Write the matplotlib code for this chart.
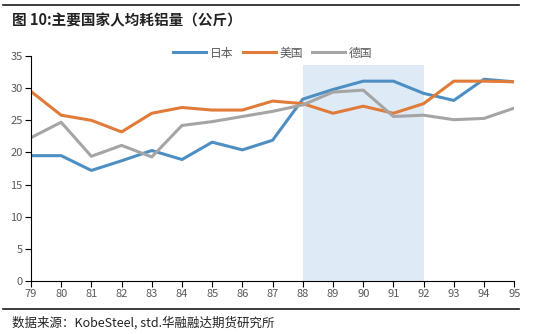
import matplotlib
matplotlib.use("Agg")
import matplotlib.pyplot as plt

plt.rcParams['font.family'] = ['Noto Sans CJK SC', 'DejaVu Sans']

years = ["79", "80", "81", "82", "83", "84", "85", "86", "87",
         "88", "89", "90", "91", "92", "93", "94", "95"]
japan = [19.5, 19.5, 17.2, 18.7, 20.3, 18.9, 21.6, 20.4, 21.9,
         28.3, 29.8, 31.1, 31.1, 29.2, 28.1, 31.4, 31.0]
usa = [29.5, 25.8, 25.0, 23.2, 26.1, 27.0, 26.6, 26.6, 28.0,
       27.6, 26.1, 27.2, 26.1, 27.6, 31.1, 31.1, 31.0]
germany = [22.3, 24.7, 19.4, 21.1, 19.3, 24.2, 24.8, 25.6, 26.4,
           27.4, 29.4, 29.7, 25.6, 25.8, 25.1, 25.3, 26.9]
shade_start, shade_end, shade_top = 9, 13, 33.6

fig = plt.figure(figsize=(5.43, 3.34), dpi=100)
ax = fig.add_axes([0.057, 0.159, 0.89, 0.673])

x = list(range(len(years)))
ax.fill_between([shade_start, shade_end], 0, shade_top, color='#DEEAF6', zorder=0, lw=0)
ax.plot(x, japan, color='#4E8FC3', lw=2.2, label='日本')
ax.plot(x, usa, color='#E07B39', lw=2.2, label='美国')
ax.plot(x, germany, color='#A5A5A5', lw=2.2, label='德国')

ax.set_xlim(0, len(years) - 1)
ax.set_ylim(0, 35)
ax.set_xticks(x)
ax.set_xticklabels(years)
ax.set_yticks(range(0, 36, 5))
for s in ['top', 'right']:
    ax.spines[s].set_visible(False)
for s in ['left', 'bottom']:
    ax.spines[s].set_color('#000000')
    ax.spines[s].set_linewidth(0.8)
ax.tick_params(axis='both', labelsize=8, colors='#000000', labelcolor='#595959',
               length=4, width=0.8, pad=2)

ax.legend(loc='upper center', bbox_to_anchor=(0.5, 1.09), ncol=3, frameon=False,
          fontsize=8.5, handlelength=2.8, handletextpad=0.3, columnspacing=0.8,
          labelcolor='#595959')

# rules above the title and above the source note (figure coordinates)
ax.plot([0.005, 0.955], [0.985, 0.985], color='#1a1a1a', lw=1.2,
        transform=fig.transFigure, clip_on=False)
ax.plot([0.005, 0.955], [0.076, 0.076], color='#1a1a1a', lw=1.2,
        transform=fig.transFigure, clip_on=False)

fig.text(0.022, 0.94, '图 10:主要国家人均耗铝量（公斤）', fontsize=10.5, fontweight='bold',
         color='#222222', va='center')
fig.text(0.022, 0.033, '数据来源：KobeSteel, std.华融融达期货研究所', fontsize=9,
         color='#222222', va='center')

fig.savefig('out.png', dpi=100)
